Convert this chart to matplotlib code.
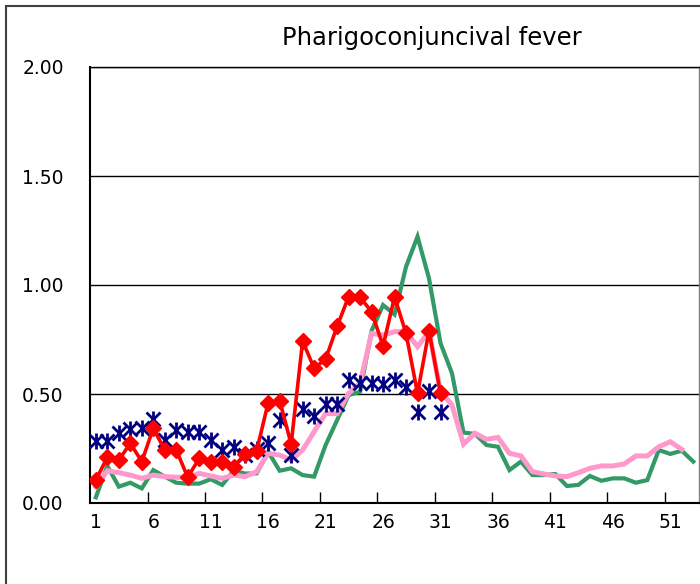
import matplotlib
matplotlib.use("Agg")
import matplotlib.pyplot as plt
from matplotlib.patches import Rectangle
import numpy as np

title = "Pharigoconjuncival fever"
weeks = list(range(1, 54))
xtick_labels = [1, 6, 11, 16, 21, 26, 31, 36, 41, 46, 51]
ytick_values = [0.0, 0.5, 1.0, 1.5, 2.0]

green = [0.026, 0.17, 0.075, 0.093, 0.067, 0.151, 0.121, 0.093, 0.089, 0.089,
         0.109, 0.083, 0.148, 0.135, 0.136, 0.235, 0.148, 0.159, 0.128, 0.121,
         0.266, 0.38, 0.495, 0.51, 0.79, 0.908, 0.865, 1.084, 1.222, 1.03,
         0.733, 0.595, 0.323, 0.317, 0.266, 0.258, 0.151, 0.19, 0.128, 0.128,
         0.133, 0.078, 0.083, 0.124, 0.102, 0.113, 0.113, 0.093, 0.105, 0.243,
         0.225, 0.24, 0.19]
pink = [0.075, 0.148, 0.139, 0.128, 0.113, 0.128, 0.121, 0.118, 0.118, 0.136,
        0.124, 0.113, 0.128, 0.121, 0.144, 0.228, 0.22, 0.197, 0.243, 0.327,
        0.41, 0.41, 0.503, 0.55, 0.778, 0.77, 0.786, 0.786, 0.717, 0.786,
        0.51, 0.45, 0.27, 0.32, 0.292, 0.301, 0.228, 0.216, 0.144, 0.133,
        0.124, 0.121, 0.139, 0.159, 0.17, 0.17, 0.179, 0.216, 0.216, 0.258,
        0.281, 0.246]
navy = [0.285, 0.285, 0.32, 0.338, 0.343, 0.384, 0.289, 0.335, 0.327, 0.327,
        0.289, 0.243, 0.258, 0.22, 0.25, 0.274, 0.38, 0.22, 0.43, 0.40,
        0.454, 0.454, 0.564, 0.552, 0.552, 0.546, 0.564, 0.534, 0.419, 0.515,
        0.419]
red = [0.105, 0.21, 0.197, 0.274, 0.19, 0.343, 0.243, 0.243, 0.118, 0.205,
       0.19, 0.19, 0.167, 0.225, 0.24, 0.46, 0.47, 0.27, 0.743, 0.618,
       0.66, 0.81, 0.946, 0.943, 0.878, 0.72, 0.946, 0.778, 0.503, 0.79,
       0.503]

plt.rcParams['font.family'] = ['DejaVu Sans']

fig = plt.figure(figsize=(7.0, 5.84), dpi=100)
fig.patch.set_facecolor('white')
ax = fig.add_axes([90.1 / 700, 81 / 584, (699 - 90.1) / 700, (503 - 67) / 584])

for y in ytick_values[1:]:
    ax.axhline(y, color='black', lw=1.0, zorder=1)

ax.plot(weeks[:len(green)], green, color='#339966', lw=3.0, zorder=2,
        solid_joinstyle='miter')
ax.plot(weeks[:len(pink)], pink, color='#FF99CC', lw=3.6, zorder=3,
        solid_joinstyle='miter')
nx = weeks[:len(navy)]
ax.plot(nx, navy, linestyle='none', marker='x', ms=10, mew=2.0,
        color='#000080', zorder=4)
ax.plot(nx, navy, linestyle='none', marker='|', ms=12, mew=2.0,
        color='#000080', zorder=4)
ax.plot(weeks[:len(red)], red, color='#FF0000', lw=2.6, marker='D', ms=8.5,
        mec='#FF0000', mfc='#FF0000', zorder=5)

ax.set_xlim(0.5, 53.5)
ax.set_ylim(0, 2.0)
ax.set_xticks(xtick_labels)
ax.set_xticklabels([str(v) for v in xtick_labels])
ax.set_xticks(np.arange(5.5, 51, 5), minor=True)
ax.tick_params(axis='x', which='major', length=0, pad=7, labelsize=13.5)
ax.tick_params(axis='x', which='minor', direction='in', length=8,
               width=1.0, color='black')
ax.set_yticks(ytick_values)
ax.set_yticklabels(['%.2f' % v for v in ytick_values])
ax.tick_params(axis='y', length=0, pad=19, labelsize=13.5)

ax.spines['right'].set_color('#808080')
ax.spines['right'].set_linewidth(1.0)
ax.spines['top'].set_color('black')
ax.spines['top'].set_linewidth(1.0)
for side in ['left', 'bottom']:
    ax.spines[side].set_color('black')
    ax.spines[side].set_linewidth(1.5)

fig.text(432 / 700, 1 - 38 / 584, title, ha='center', va='center',
         fontsize=17.5, color='black')

fig.patches.append(Rectangle((6 / 700, -0.1), 1.2, 1.1 - 6 / 584,
                             transform=fig.transFigure, fill=False,
                             edgecolor='#404040', lw=1.5, zorder=0))

fig.savefig('out.png', dpi=100, facecolor='white')
